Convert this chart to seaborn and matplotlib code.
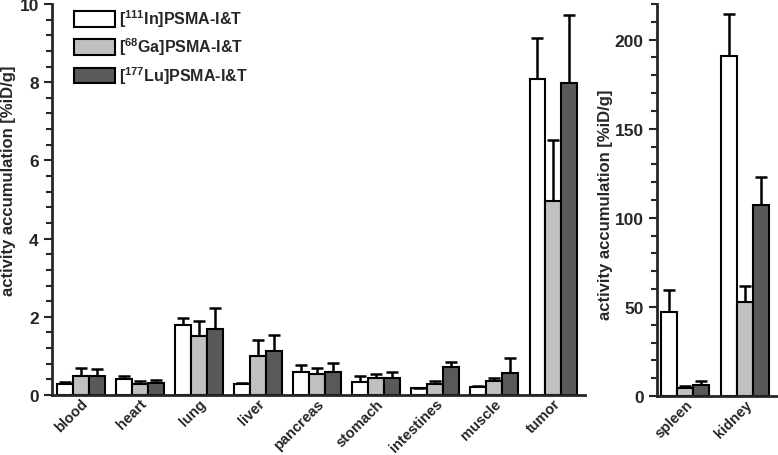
import numpy as np
import pandas as pd
import matplotlib
matplotlib.use("Agg")
import matplotlib.pyplot as plt
import seaborn as sns
from matplotlib.ticker import MultipleLocator, AutoMinorLocator

# organ groups
organs_left = ["blood", "heart", "lung", "liver", "pancreas", "stomach", "intestines", "muscle", "tumor"]
organs_right = ["spleen", "kidney"]
tracers = ["[$^{111}$In]PSMA-I&T", "[$^{68}$Ga]PSMA-I&T", "[$^{177}$Lu]PSMA-I&T"]

# mean values (%iD/g)
in_left = [0.29, 0.40, 1.79, 0.27, 0.60, 0.33, 0.17, 0.21, 8.09]
ga_left = [0.49, 0.28, 1.51, 1.01, 0.54, 0.43, 0.27, 0.36, 4.96]
lu_left = [0.48, 0.31, 1.68, 1.13, 0.59, 0.43, 0.71, 0.57, 7.97]
# standard deviations (upper error bars)
in_left_sd = [0.03, 0.08, 0.17, 0.04, 0.18, 0.15, 0.02, 0.01, 1.03]
ga_left_sd = [0.21, 0.08, 0.37, 0.39, 0.16, 0.10, 0.09, 0.08, 1.56]
lu_left_sd = [0.18, 0.07, 0.55, 0.40, 0.22, 0.16, 0.13, 0.37, 1.76]

in_right = [46.9, 190.6]
ga_right = [4.7, 53.0]
lu_right = [6.2, 107.0]
in_right_sd = [12.7, 24.0]
ga_right_sd = [0.9, 9.0]
lu_right_sd = [2.4, 16.0]

colors = ["#ffffff", "#c0c0c0", "#595959"]

sns.set_style("ticks")
plt.rcParams["font.family"] = ["Liberation Sans", "DejaVu Sans"]
plt.rcParams["font.weight"] = "bold"
plt.rcParams["mathtext.fontset"] = "custom"
plt.rcParams["mathtext.rm"] = "Liberation Sans:bold"
plt.rcParams["mathtext.it"] = "Liberation Sans:bold"
plt.rcParams["mathtext.bf"] = "Liberation Sans:bold"


def make_df(organs, vals):
    rows = []
    for tr, v in zip(tracers, vals):
        for o, x in zip(organs, v):
            rows.append({"organ": o, "tracer": tr, "value": x})
    return pd.DataFrame(rows)


def draw(ax, organs, vals, sds):
    df = make_df(organs, vals)
    sns.barplot(data=df, x="organ", y="value", hue="tracer", order=organs,
                hue_order=tracers, palette=colors, edgecolor="black",
                linewidth=1.5, errorbar=None, ax=ax, legend=False, width=0.8)
    # upper error bars only
    for cont, sd in zip(ax.containers, sds):
        xs = np.array([b.get_x() + b.get_width() / 2 for b in cont])
        hs = np.array([b.get_height() for b in cont])
        tops = hs + np.array(sd)
        ax.vlines(xs, hs, tops, color="black", lw=1.8, zorder=3)
        ax.hlines(tops, xs - 0.1, xs + 0.1, color="black", lw=1.8, zorder=3)
    sns.despine(ax=ax)
    for s in ["left", "bottom"]:
        ax.spines[s].set_linewidth(2)
    ax.tick_params(axis="x", length=0, pad=1)
    ax.tick_params(axis="y", which="major", length=6, width=1.5, labelsize=12.5)
    ax.tick_params(axis="y", which="minor", length=4, width=1.5)
    ax.set_xlabel("")
    ax.set_ylabel("activity accumulation [%iD/g]", fontsize=12, fontweight="bold")
    for lab in ax.get_xticklabels():
        lab.set_rotation(45)
        lab.set_ha("right")
        lab.set_va("top")
        lab.set_rotation_mode("anchor")
        lab.set_fontsize(10.5)
        lab.set_fontweight("bold")


fig = plt.figure(figsize=(7.78, 4.56), dpi=100)
ax1 = fig.add_axes([52 / 778, 60 / 456, 533 / 778, 391 / 456])
ax2 = fig.add_axes([657 / 778, 59 / 456, 121 / 778, 392 / 456])

draw(ax1, organs_left, [in_left, ga_left, lu_left], [in_left_sd, ga_left_sd, lu_left_sd])
ax1.set_ylim(0, 10)
ax1.set_xlim(-0.49, 8.54)
ax1.yaxis.set_major_locator(MultipleLocator(2))
ax1.yaxis.set_minor_locator(AutoMinorLocator(5))
ax1.yaxis.set_label_coords(-0.068, 0.55)

draw(ax2, organs_right, [in_right, ga_right, lu_right], [in_right_sd, ga_right_sd, lu_right_sd])
ax2.set_ylim(0, 220)
ax2.set_xlim(-0.47, 1.55)
ax2.yaxis.set_major_locator(MultipleLocator(50))
ax2.yaxis.set_minor_locator(MultipleLocator(10))
ax2.yaxis.set_label_coords(-0.36, 0.49)

handles = [plt.Rectangle((0, 0), 1, 1, facecolor=c, edgecolor="black", linewidth=1.5) for c in colors]
ax1.legend(handles, tracers, loc="upper left", bbox_to_anchor=(0.02, 1.02), frameon=False,
           handlelength=2.6, handleheight=1.15, labelspacing=0.42, handletextpad=0.25,
           borderaxespad=0.3, prop={"weight": "bold", "size": 11.5})

fig.savefig("out.png", dpi=100)
